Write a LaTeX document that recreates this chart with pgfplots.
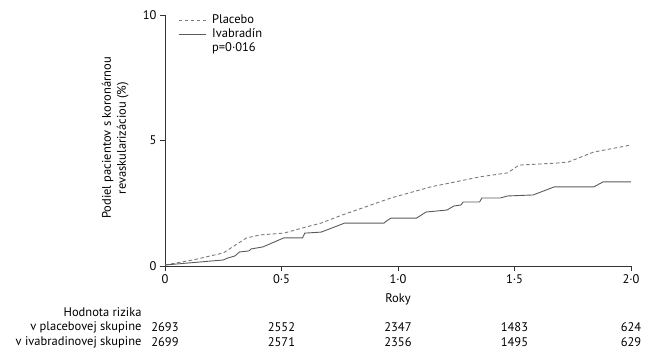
\documentclass[border=0pt]{standalone}
\usepackage{fontspec}
\setmainfont{PT Sans}
\usepackage{pgfplots}
\pgfplotsset{compat=1.18}
\definecolor{axisgray}{HTML}{333333}
\definecolor{plgray}{HTML}{7A7A7A}
\definecolor{ivgray}{HTML}{5A5A5A}
\begin{document}
\begin{tikzpicture}[font=\fontsize{12.5}{15}\selectfont]
\path[use as bounding box] (-165pt,-88pt) rectangle (489pt,266pt);
\begin{axis}[
  at={(0pt,0pt)}, anchor=origin,
  scale only axis, width=466pt, height=251pt,
  xmin=0, xmax=2, ymin=0, ymax=10,
  axis x line*=bottom, axis y line*=left,
  axis line style={axisgray, line width=0.8pt},
  tick style={axisgray, line width=0.8pt},
  tick align=outside, major tick length=5pt,
  xtick={0,0.5,1,1.5,2}, xticklabels={0,0·5,1·0,1·5,2·0},
  ytick={0,5,10}, yticklabels={0,5,10},
  minor tick num=0,
  xlabel={Roky},
  xlabel style={at={(axis description cs:0.5,0)}, anchor=center, yshift=-33pt},
  ylabel={Podiel pacientov s koronárnou\\revaskularizáciou (\%)},
  ylabel style={at={(axis description cs:-0.107,0.51)}, anchor=center, align=center},
  clip=false,
  legend style={draw=none, fill=none, at={(axis description cs:0.028,1.005)}, anchor=north west,
    row sep=1.5pt, column sep=5pt, inner sep=0pt, nodes={inner sep=1pt, anchor=west}},
  legend cell align=left,
  legend image code/.code={\draw[#1] (0pt,0pt) -- (27pt,0pt);},
]
\addplot[plgray, line width=0.9pt, dash pattern=on 3.5pt off 2.5pt] coordinates {
(0,0.04) (0.12,0.24) (0.25,0.52) (0.35,1.12) (0.41,1.24) (0.51,1.31) (0.62,1.59)
(0.67,1.71) (0.76,2.03) (0.97,2.71) (1.14,3.15) (1.35,3.55) (1.47,3.71) (1.52,4.02)
(1.68,4.10) (1.73,4.14) (1.84,4.54) (2.0,4.82)};
\addlegendentry{Placebo}
\addplot[ivgray, line width=0.9pt] coordinates {
(0,0.04) (0.25,0.24) (0.27,0.32) (0.30,0.40) (0.32,0.56) (0.36,0.60) (0.37,0.68)
(0.42,0.76) (0.51,1.12) (0.59,1.12) (0.60,1.31) (0.67,1.35) (0.76,1.67) (0.77,1.71)
(0.94,1.71) (0.95,1.79) (0.97,1.91) (1.08,1.91) (1.12,2.15) (1.21,2.23) (1.24,2.39)
(1.27,2.43) (1.28,2.55) (1.35,2.55) (1.36,2.71) (1.44,2.71) (1.47,2.79) (1.58,2.83)
(1.67,3.15) (1.84,3.15) (1.88,3.35) (2.0,3.35)};
\addlegendentry{Ivabradín}
\addlegendimage{empty legend}
\addlegendentry{p=0·016}
% risk table
\node[anchor=east] at (axis cs:0,0) [xshift=-20pt, yshift=-46pt] {Hodnota rizika};
\node[anchor=east] at (axis cs:0,0) [xshift=-20pt, yshift=-61pt] {v placebovej skupine};
\node[anchor=east] at (axis cs:0,0) [xshift=-20pt, yshift=-76pt] {v ivabradinovej skupine};
\node at (axis cs:0,0) [yshift=-61pt] {2693};
\node at (axis cs:0.5,0) [yshift=-61pt] {2552};
\node at (axis cs:1,0) [yshift=-61pt] {2347};
\node at (axis cs:1.5,0) [yshift=-61pt] {1483};
\node at (axis cs:2,0) [yshift=-61pt] {624};
\node at (axis cs:0,0) [yshift=-76pt] {2699};
\node at (axis cs:0.5,0) [yshift=-76pt] {2571};
\node at (axis cs:1,0) [yshift=-76pt] {2356};
\node at (axis cs:1.5,0) [yshift=-76pt] {1495};
\node at (axis cs:2,0) [yshift=-76pt] {629};
\end{axis}
\end{tikzpicture}
\end{document}
